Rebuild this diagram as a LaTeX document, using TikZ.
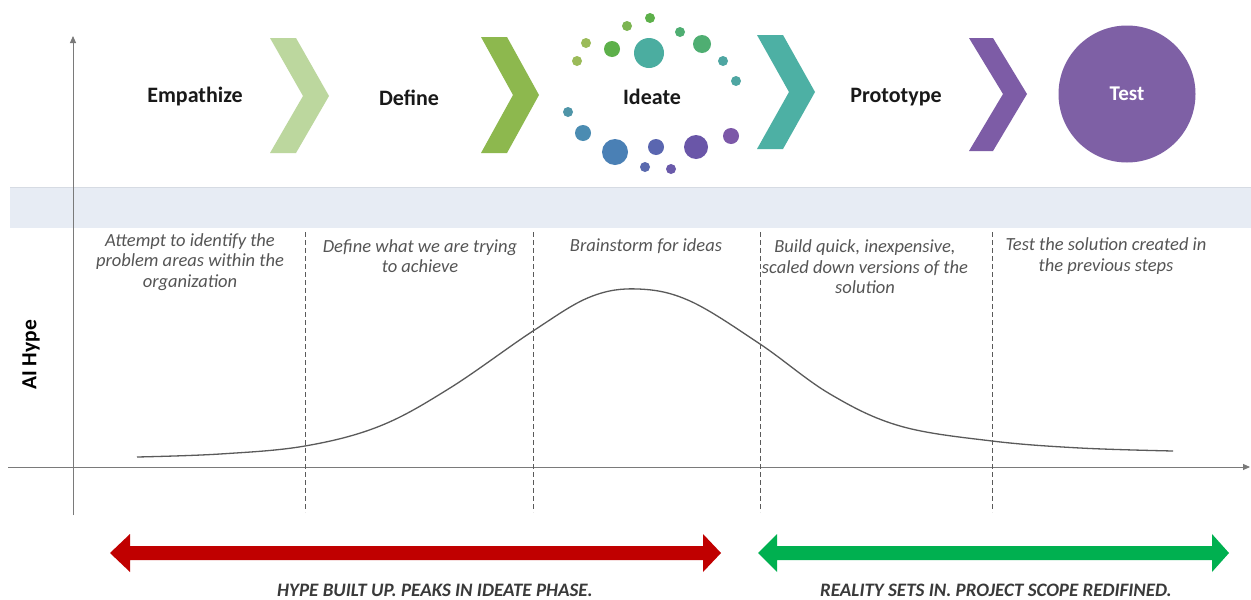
\documentclass[tikz,border=0pt]{standalone}
\usepackage{fontspec}
\setmainfont{Carlito}
\usetikzlibrary{arrows.meta}

\definecolor{axisgray}{HTML}{7A7A7A}
\definecolor{curvegray}{HTML}{5A5A5A}
\definecolor{band}{HTML}{E7ECF4}
\definecolor{bandedge}{HTML}{D6DBE3}
\definecolor{descgray}{HTML}{555555}
\definecolor{chevA}{HTML}{BCD79E}
\definecolor{chevB}{HTML}{8DB84E}
\definecolor{chevC}{HTML}{4DB0A4}
\definecolor{chevD}{HTML}{7D5CA6}
\definecolor{testpurple}{HTML}{7E60A5}
\definecolor{hypered}{HTML}{C00000}
\definecolor{realgreen}{HTML}{00B050}
\definecolor{capgray}{HTML}{3A3A3A}
% idea dot palette, green through teal and blue to purple
\definecolor{dA}{HTML}{7CB552}
\definecolor{dB}{HTML}{5DB04A}
\definecolor{dC}{HTML}{4FAE72}
\definecolor{dD}{HTML}{9BBB59}
\definecolor{dE}{HTML}{4BADA0}
\definecolor{dF}{HTML}{4EA6A2}
\definecolor{dG}{HTML}{4F95A8}
\definecolor{dH}{HTML}{4B8CB2}
\definecolor{dI}{HTML}{4A80B5}
\definecolor{dJ}{HTML}{5A66B0}
\definecolor{dK}{HTML}{6A56A8}
\definecolor{dL}{HTML}{7C58A8}
\definecolor{dM}{HTML}{5A6AAE}
\definecolor{dN}{HTML}{6A5AAA}

\tikzset{
  phase/.style={font=\bfseries\fontsize{22}{24}\selectfont, text=black!90, inner sep=0pt},
  desc/.style={font=\itshape\fontsize{18.5}{20.5}\selectfont, text=descgray, align=center, inner sep=0pt},
  caption/.style={font=\bfseries\itshape\fontsize{19}{21}\selectfont, text=capgray, inner sep=0pt},
  axisline/.style={draw=axisgray, line width=0.9pt, -{Triangle[length=7pt,width=6pt]}},
  divider/.style={draw=curvegray, line width=0.8pt, dash pattern=on 5pt off 3pt},
  dot/.style={circle, inner sep=0pt, minimum size=#1},
}

\begin{document}
\begin{tikzpicture}[x=1pt,y=-1pt]
\useasboundingbox (0,0) rectangle (1251,600);
\fill[white] (0,0) rectangle (1251,600);

% shaded band under the phase row
\fill[band] (10,187) rectangle (1251,228);
\draw[bandedge, line width=0.6pt] (10,187) -- (1251,187);

% axes
\coordinate (yb) at (73,515);
\coordinate (yt) at (73,36);
\coordinate (xl) at (8,467);
\coordinate (xr) at (1250,467);
\draw[axisline] (yb) -- (yt);
\draw[axisline] (xl) -- (xr);
\node[font=\bfseries\fontsize{21.5}{24}\selectfont, rotate=90, inner sep=0pt] (ylab) at (31,355) {AI Hype};

% phase dividers
\foreach \x/\n in {305/a,533/b,760/c,992/d}{
  \coordinate (dt\n) at (\x,232);
  \coordinate (db\n) at (\x,512);
  \draw[divider] (dt\n) -- (db\n);
}

% hype curve
\draw[curvegray, line width=1.3pt] plot[smooth, tension=0.6] coordinates {
  (137,457) (220,454) (305,446) (380,426) (450,388) (533,331) (590,297)
  (638,289) (690,301) (760,344) (830,394) (900,426) (992,441) (1080,448) (1173,451)};

% phase descriptions
\node[desc] (t1) at (190,262) {Attempt to identify the\\problem areas within the\\organization};
\node[desc] (t2) at (420,256) {Define what we are trying\\to achieve};
\node[desc] (t3) at (646,246) {Brainstorm for ideas};
\node[desc] (t4) at (865,267) {Build quick, inexpensive,\\scaled down versions of the\\solution};
\node[desc] (t5) at (1106,256) {Test the solution created in\\the previous steps};

% phase row
\node[phase] (emp) at (195,97) {Empathize};
\node[phase] (def) at (409,98) {Define};
\node[phase] (ide) at (652,97) {Ideate};
\node[phase] (pro) at (896,97) {Prototype};

\fill[chevA] (270,38) -- (296,38) -- (329,96) -- (296,153) -- (270,153) -- (303,96) -- cycle;
\fill[chevB] (481,37) -- (507,37) -- (539,95) -- (507,153) -- (481,153) -- (513,95) -- cycle;
\fill[chevC] (757,35) -- (783,35) -- (815,92) -- (783,149) -- (757,149) -- (789,92) -- cycle;
\fill[chevD] (969,38) -- (993,38) -- (1027,94) -- (993,151) -- (969,151) -- (1003,94) -- cycle;

\node[circle, fill=testpurple, minimum size=137pt, inner sep=0pt,
      font=\bfseries\fontsize{21}{24}\selectfont, text=white] (test) at (1127,94) {Test};

% ring of idea dots
\node[dot=10pt, fill=dB] (i1) at (650,18) {};
\node[dot=10pt, fill=dA] (i2) at (627,26) {};
\node[dot=10pt, fill=dC] (i3) at (680,32) {};
\node[dot=10pt, fill=dD] (i4) at (586,43) {};
\node[dot=16pt, fill=dB] (i5) at (612,49) {};
\node[dot=30pt, fill=dE] (i6) at (649,53) {};
\node[dot=18pt, fill=dC] (i7) at (702,44) {};
\node[dot=10pt, fill=dD] (i8) at (577,61) {};
\node[dot=10pt, fill=dF] (i9) at (723,61) {};
\node[dot=10pt, fill=dF] (i10) at (736,81) {};
\node[dot=10pt, fill=dG] (i11) at (568,112) {};
\node[dot=16pt, fill=dH] (i12) at (583,133) {};
\node[dot=26pt, fill=dI] (i13) at (615,152) {};
\node[dot=16pt, fill=dJ] (i14) at (656,147) {};
\node[dot=24pt, fill=dK] (i15) at (696,147) {};
\node[dot=16pt, fill=dL] (i16) at (731,136) {};
\node[dot=10pt, fill=dM] (i17) at (645,167) {};
\node[dot=10pt, fill=dN] (i18) at (671,169) {};

% bottom summary arrows
\fill[hypered] (110,553) -- (130,534) -- (130,546) -- (703,546) -- (703,534) -- (721,553)
  -- (703,572) -- (703,560) -- (130,560) -- (130,572) -- cycle;
\fill[realgreen] (758,553) -- (777,534) -- (777,546) -- (1212,546) -- (1212,534) -- (1229,553)
  -- (1212,572) -- (1212,560) -- (777,560) -- (777,572) -- cycle;
\node[caption] (c1) at (435,590) {HYPE BUILT UP. PEAKS IN IDEATE PHASE.};
\node[caption] (c2) at (996,590) {REALITY SETS IN. PROJECT SCOPE REDIFINED.};
\end{tikzpicture}
\end{document}
